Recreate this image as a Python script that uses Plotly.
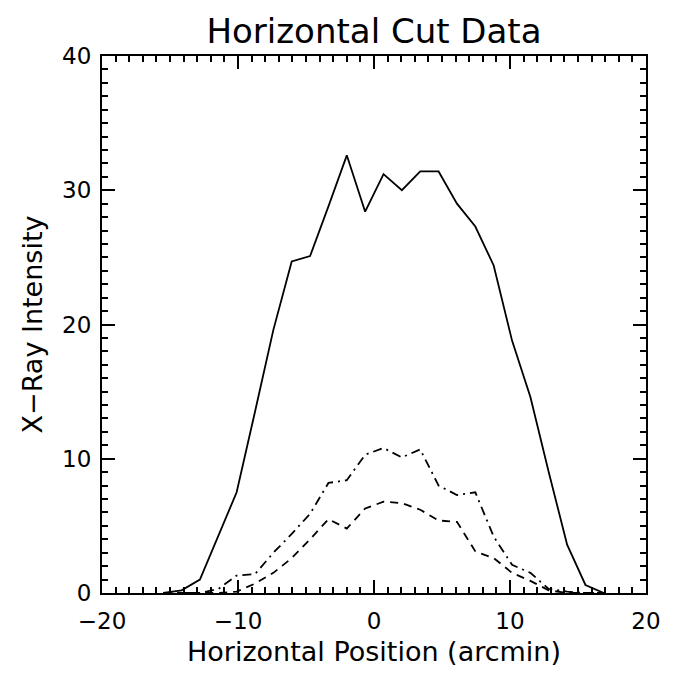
import plotly.graph_objects as go

x_pos = [-15.5, -14.15, -12.8, -11.45, -10.1, -8.75, -7.4, -6.05, -4.7, -3.35,
         -2.0, -0.65, 0.7, 2.05, 3.4, 4.75, 6.1, 7.45, 8.8, 10.15,
         11.5, 12.85, 14.2, 15.55, 16.9]
solid_vals = [0.0, 0.2, 1.0, 4.3, 7.5, 13.5, 19.6, 24.7, 25.1, 28.8,
              32.6, 28.4, 31.2, 30.0, 31.4, 31.4, 29.0, 27.3, 24.4, 18.8,
              14.6, 9.0, 3.6, 0.6, 0.0]
dashdot_vals = [0.0, 0.0, 0.0, 0.3, 1.3, 1.4, 3.0, 4.4, 5.9, 8.2,
                8.4, 10.3, 10.8, 10.1, 10.7, 8.0, 7.3, 7.5, 4.2, 2.1,
                1.5, 0.3, 0.1, 0.0, 0.0]
dashed_vals = [0.0, 0.0, 0.0, 0.0, 0.1, 0.7, 1.5, 2.6, 4.0, 5.5,
               4.8, 6.3, 6.8, 6.7, 6.2, 5.4, 5.3, 3.1, 2.6, 1.5,
               0.9, 0.2, 0.0, 0.0, 0.0]

FONT = "DejaVu Sans"

fig = go.Figure()
fig.add_trace(go.Scatter(x=x_pos, y=solid_vals, mode="lines",
                         line=dict(color="black", width=1.8)))
fig.add_trace(go.Scatter(x=x_pos, y=dashdot_vals, mode="lines",
                         line=dict(color="black", width=1.8, dash="9px,5px,2px,5px")))
fig.add_trace(go.Scatter(x=x_pos, y=dashed_vals, mode="lines",
                         line=dict(color="black", width=1.8, dash="8px,6px")))

axis_common = dict(
    showgrid=False, zeroline=False, showline=True, linecolor="black", linewidth=2,
    mirror="ticks", ticks="inside", ticklen=13, tickwidth=1.5, tickcolor="black",
    minor=dict(dtick=1, ticklen=6, tickwidth=1.5, tickcolor="black", ticks="inside", showgrid=False),
    tickfont=dict(family=FONT, size=23, color="black"),
)

fig.update_layout(
    width=673, height=679,
    margin=dict(l=102, r=19, t=56, b=86),
    paper_bgcolor="white", plot_bgcolor="white",
    showlegend=False,
    title=dict(text="Horizontal Cut Data", x=0.5, xanchor="center", xref="paper",
               y=1 - 31 / 679, yanchor="middle", yref="container",
               font=dict(family=FONT, size=34, color="black")),
    xaxis=dict(range=[-20, 20], tickvals=[-20, -10, 0, 10, 20], ticklabelstandoff=6,
               title=dict(text="Horizontal Position (arcmin)", font=dict(family=FONT, size=27, color="black"), standoff=10),
               **axis_common),
    yaxis=dict(range=[0, 40], tickvals=[0, 10, 20, 30, 40], ticklabelstandoff=4,
               title=dict(text="X−Ray Intensity", font=dict(family=FONT, size=27, color="black"), standoff=12),
               **axis_common),
)

fig.write_html("out.html")
